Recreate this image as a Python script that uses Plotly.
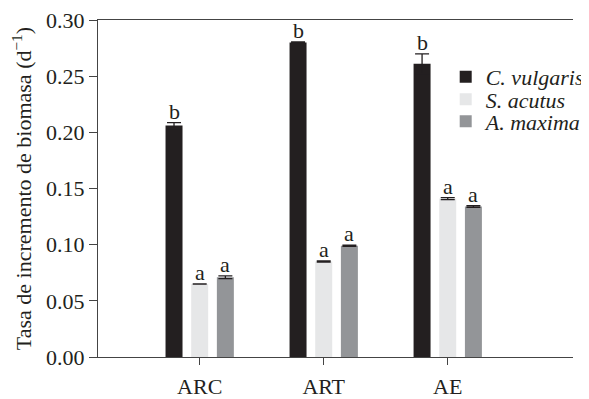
import plotly.graph_objects as go

categories = ["ARC", "ART", "AE"]
species = ["C. vulgaris", "S. acutus", "A. maxima"]
values = {
    "C. vulgaris": [0.206, 0.280, 0.261],
    "S. acutus": [0.065, 0.085, 0.141],
    "A. maxima": [0.071, 0.099, 0.134],
}
errors = {
    "C. vulgaris": [0.0027, 0.0005, 0.0088],
    "S. acutus": [0.0, 0.0006, 0.0009],
    "A. maxima": [0.0012, 0.0006, 0.0007],
}
letters = {
    "C. vulgaris": ["b", "b", "b"],
    "S. acutus": ["a", "a", "a"],
    "A. maxima": ["a", "a", "a"],
}
colors = {"C. vulgaris": "#231f20", "S. acutus": "#e6e7e8", "A. maxima": "#939598"}
yticks = [0.0, 0.05, 0.10, 0.15, 0.20, 0.25, 0.30]

FONT = "Liberation Serif"
slot = 0.207
bw = 0.137
xs = list(range(len(categories)))
legend_ids = ["legend", "legend2", "legend3"]
legend_y = [0.831, 0.764, 0.699]

fig = go.Figure()
annotations = []
for k, sp in enumerate(species):
    off = (k - 1) * slot
    fig.add_trace(go.Bar(
        x=xs, y=values[sp], name=sp, legend=legend_ids[k],
        marker=dict(color=colors[sp], line=dict(width=0)),
        width=bw, offset=off - bw / 2,
        error_y=dict(type="data", array=errors[sp], visible=True,
                     color="#231f20", thickness=1.3, width=7),
    ))
    for i in xs:
        annotations.append(dict(
            x=i + off, y=values[sp][i] + errors[sp][i], text=letters[sp][i],
            xref="x", yref="y", showarrow=False, yanchor="bottom", yshift=-3,
            font=dict(family=FONT, size=22, color="#231f20"),
        ))

legend_style = dict(xanchor="left", yanchor="middle", x=0.732,
                    font=dict(family=FONT, size=22, style="italic", color="#231f20"),
                    bgcolor="rgba(0,0,0,0)", itemwidth=30)

# page body adds an 8px offset, so the figure is 8px smaller
fig.update_layout(
    width=581, height=391,
    margin=dict(l=90, r=0, t=12, b=38),
    paper_bgcolor="white", plot_bgcolor="white",
    barmode="overlay",
    font=dict(family=FONT, size=22, color="#231f20"),
    showlegend=True,
    legend=dict(y=legend_y[0], **legend_style),
    legend2=dict(y=legend_y[1], **legend_style),
    legend3=dict(y=legend_y[2], **legend_style),
    annotations=annotations,
    xaxis=dict(
        tickmode="array", tickvals=xs, ticktext=categories,
        range=[-0.82, 3.01], showline=True, linecolor="#444444", linewidth=1,
        mirror=True, ticks="outside", ticklen=7, tickcolor="#444444",
        showgrid=False, zeroline=False, tickfont=dict(size=22),
        ticklabelstandoff=3,
    ),
    yaxis=dict(
        range=[0, 0.30], tickvals=yticks, tickformat=".2f",
        showline=True, linecolor="#444444", linewidth=1,
        ticks="outside", ticklen=8, tickcolor="#444444",
        showgrid=False, zeroline=False, tickfont=dict(size=22),
        ticklabeloverflow="allow",
        title=dict(text="Tasa de incremento de biomasa (d<sup>−1</sup>)",
                   font=dict(size=22), standoff=10),
    ),
)

fig.write_html("out.html")
